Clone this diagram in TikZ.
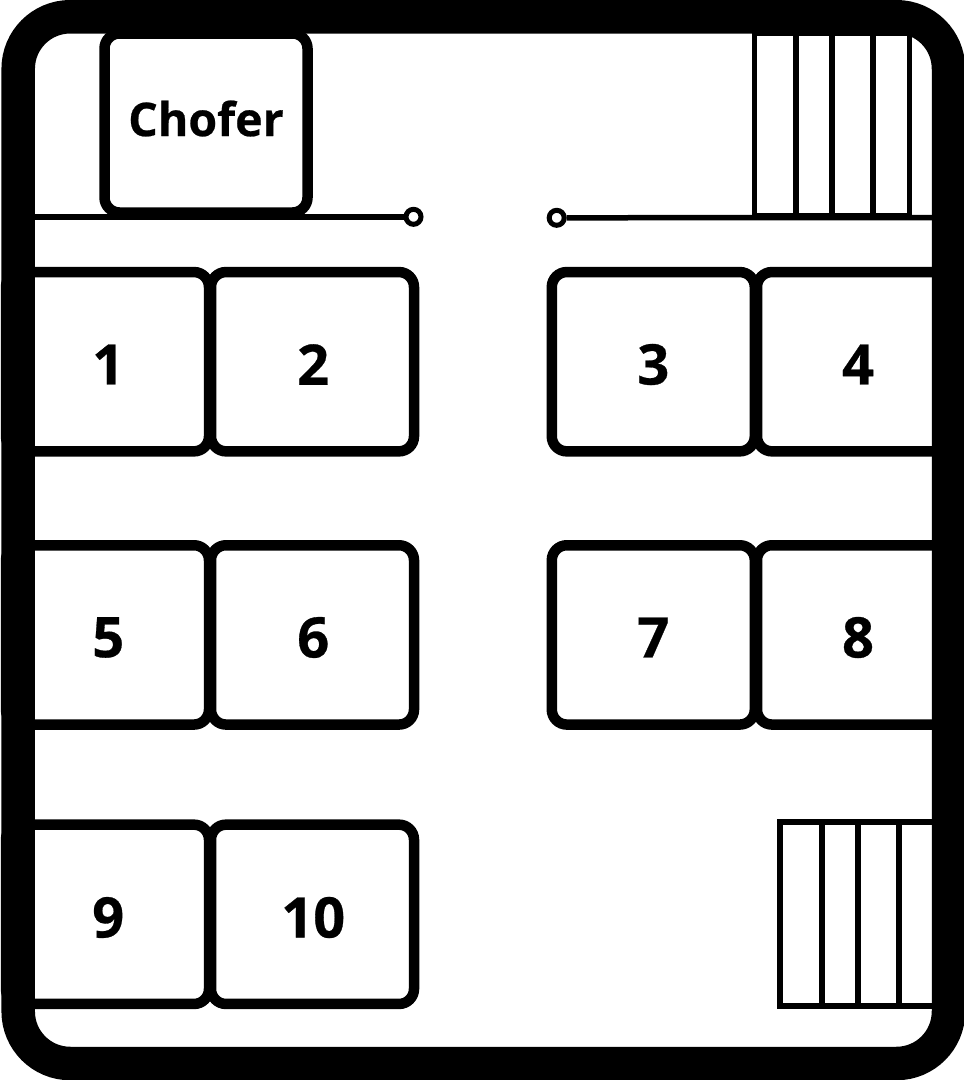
\documentclass[tikz,border=0pt]{standalone}
\usepackage{fontspec}
\setmainfont[BoldFeatures={FakeBold=0.5}]{Open Sans}
\tikzset{
  seat/.style={draw=black, line width=10.5pt, rounded corners=15pt, inner sep=0pt,
    minimum width=203pt, minimum height=179.3pt},
  seatnum/.style={font=\fontsize{56}{60}\selectfont\bfseries, inner sep=0pt},
  drivername/.style={font=\fontsize{46.5}{50}\selectfont\bfseries, inner sep=0pt},
  bar/.style={draw=black, line width=5.5pt},
  lowbar/.style={draw=black, line width=6pt},
  knob/.style={circle, draw=black, fill=white, line width=5pt, inner sep=0pt, minimum size=15pt},
}
\begin{document}
\begin{tikzpicture}[x=1pt, y=-1pt, line join=miter]
    \useasboundingbox (0,0) rectangle (964,1080);
    % seats
    \foreach \i/\x/\y/\tx/\ty in {1/107.5/361.7/108.2/364.5, 2/312.5/361.7/313.2/364.5, 3/653.3/361.7/653.3/364.5, 4/858.5/361.7/858/364.5,
                                  5/107.5/634.9/108.2/637.5, 6/312.5/634.9/313.2/637.5, 7/653.3/634.9/653.3/637.5, 8/858.5/634.9/858/637.5,
                                  9/107.5/914.3/108.2/917.5, 10/312.5/914.3/313.2/917.5} {
        \node[seat] (s\i) at (\x,\y) {};
        \node[seatnum] (n\i) at (\tx,\ty) {\i};
    }
    \node[seat, minimum height=179pt] (driver) at (206,123) {};
    \node[drivername] (drivertext) at (206,118.5) {Chofer};
    % partition
    \coordinate (pl) at (35,216.8);
    \coordinate (pr) at (932,217.5);
    \node[knob] (kl) at (413.5,216.8) {};
    \node[knob] (kr) at (556.7,217.8) {};
    \draw[bar] (pl) -- (kl);
    \draw[bar] (kr) -- (pr);
    % stairs
    \draw[bar] (754.3,33) rectangle (909.7,216);
    \foreach \x in {796,832,873} { \draw[bar] (\x,33) -- (\x,216); }
    \draw[lowbar] (932,822.3) -- (780.3,822.3) -- (780.3,1006.3) -- (932,1006.3);
    \foreach \x in {822,858,899} { \draw[lowbar] (\x,822.3) -- (\x,1006.3); }
    % frame
    \draw[black, line width=33.5pt, rounded corners=52pt] (18.2,16.75) rectangle (948.5,1063.5);
\end{tikzpicture}
\end{document}
